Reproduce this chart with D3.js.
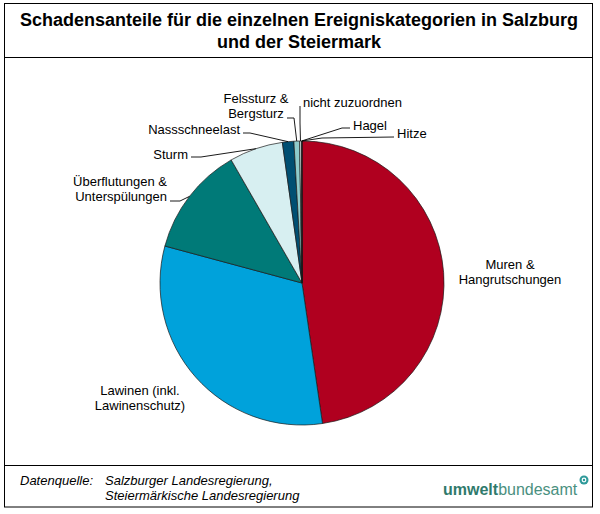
<!DOCTYPE html>
<html>
<head>
<meta charset="utf-8">
<script src="https://cdn.jsdelivr.net/npm/d3@7"></script>
<style>
  body { margin: 0; background: #fff; }
  svg text { font-family: "Liberation Sans", Arial, sans-serif; fill: #000; }
</style>
</head>
<body>
<svg id="chart" width="600" height="514"></svg>
<script>
// categories, clockwise from 12 o'clock
const categories = [
  "Muren & Hangrutschungen",
  "Lawinen (inkl. Lawinenschutz)",
  "Überflutungen & Unterspülungen",
  "Sturm",
  "Nassschneelast",
  "Felssturz & Bergsturz",
  "nicht zuzuordnen",
  "Hagel",
  "Hitze"
];
// share of damages in percent
const shares = [47.7, 31.5, 12.5, 6.1, 1.3, 0.64, 0.2, 0.05, 0.02];
const colors = ["#b0001f", "#00a2db", "#007a78", "#d7eff1", "#004f72", "#8ecbcb", "#e6f2f2", "#7fb7d0", "#c8e4e8"];

const labelLines = [
  ["Muren &", "Hangrutschungen"],
  ["Lawinen (inkl.", "Lawinenschutz)"],
  ["Überflutungen &", "Unterspülungen"],
  ["Sturm"],
  ["Nassschneelast"],
  ["Felssturz &", "Bergsturz"],
  ["nicht zuzuordnen"],
  ["Hagel"],
  ["Hitze"]
];

const width = 600, height = 514;
const cx = 302, cy = 283, r = 142;

// label placement, relative to pie centre (x, first baseline, anchor, leader start + elbow)
const labelLayout = [
  { x: 208, y: -14, anchor: "middle", leader: null },
  { x: -162, y: 112, anchor: "middle", leader: null },
  { x: -135, y: -97, anchor: "end", leader: [[-132, -82], [-122, -82]] },
  { x: -114, y: -124, anchor: "end", leader: [[-111, -126], [-101, -126]] },
  { x: -62, y: -149, anchor: "end", leader: [[-59, -150], [-52, -150]] },
  { x: -46, y: -180, anchor: "middle", leader: [[-15, -165], [-8, -165]] },
  { x: 1, y: -176, anchor: "start", leader: [[-2, -177], [-2, -160]] },
  { x: 51, y: -153, anchor: "start", leader: [[48, -155], [40, -155]] },
  { x: 95, y: -145, anchor: "start", leader: [[92, -146], [20, -145]] }
];

const svg = d3.select("#chart")
  .attr("viewBox", `0 0 ${width} ${height}`);

// frame
svg.append("rect")
  .attr("x", 4.5).attr("y", 3.5)
  .attr("width", 588).attr("height", 503.5)
  .attr("fill", "none").attr("stroke", "#000").attr("stroke-width", 1);
svg.append("line")
  .attr("x1", 4).attr("x2", 593).attr("y1", 57.5).attr("y2", 57.5)
  .attr("stroke", "#000");
svg.append("line")
  .attr("x1", 4).attr("x2", 593).attr("y1", 465.5).attr("y2", 465.5)
  .attr("stroke", "#000");

// title
const title = svg.append("text")
  .attr("text-anchor", "middle")
  .attr("font-size", 18).attr("font-weight", "bold");
title.append("tspan").attr("x", 299).attr("y", 26)
  .text("Schadensanteile für die einzelnen Ereigniskategorien in Salzburg");
title.append("tspan").attr("x", 299).attr("y", 48)
  .text("und der Steiermark");

// pie
const pie = d3.pie().sort(null).value(d => d)
  .startAngle(0).endAngle(2 * Math.PI);
const arcs = pie(shares);
const arc = d3.arc().innerRadius(0).outerRadius(r);
const edge = d3.arc().innerRadius(r).outerRadius(r);

const g = svg.append("g").attr("transform", `translate(${cx},${cy})`);

g.selectAll("path.slice")
  .data(arcs)
  .enter()
  .append("path")
  .attr("class", "slice")
  .attr("d", arc)
  .attr("fill", (d, i) => colors[i])
  .attr("stroke", "#1a1a1a")
  .attr("stroke-width", 0.7)
  .attr("stroke-linejoin", "round");

// leader lines
arcs.forEach((d, i) => {
  const lay = labelLayout[i];
  if (!lay.leader) return;
  const end = edge.centroid(d);
  const pts = lay.leader.concat([end]);
  g.append("path")
    .attr("d", d3.line()(pts))
    .attr("fill", "none")
    .attr("stroke", "#000")
    .attr("stroke-width", 0.9);
});

// labels
labelLines.forEach((lines, i) => {
  const lay = labelLayout[i];
  const t = g.append("text")
    .attr("text-anchor", lay.anchor)
    .attr("font-size", 13);
  lines.forEach((s, k) => {
    t.append("tspan")
      .attr("x", lay.x)
      .attr("y", lay.y + k * 15)
      .text(s);
  });
});

// footer
const foot = svg.append("g").attr("font-size", 13).attr("font-style", "italic");
foot.append("text").attr("x", 20).attr("y", 485).text("Datenquelle:");
foot.append("text").attr("x", 105).attr("y", 485).text("Salzburger Landesregierung,");
foot.append("text").attr("x", 105).attr("y", 500).text("Steiermärkische Landesregierung");

// logo
const logo = svg.append("text")
  .attr("x", 443).attr("y", 495)
  .attr("font-size", 16)
  .attr("font-family", "'DejaVu Sans', sans-serif");
logo.append("tspan").attr("font-weight", "bold").attr("fill", "#2f7a6c").text("umwelt");
logo.append("tspan").attr("fill", "#4a9080").attr("font-weight", "normal").text("bundesamt");
svg.append("circle")
  .attr("cx", 584).attr("cy", 480).attr("r", 4.5)
  .attr("fill", "#2f9a9a");
svg.append("circle")
  .attr("cx", 584).attr("cy", 480).attr("r", 1.8)
  .attr("fill", "none").attr("stroke", "#fff").attr("stroke-width", 1.2);
</script>
</body>
</html>
